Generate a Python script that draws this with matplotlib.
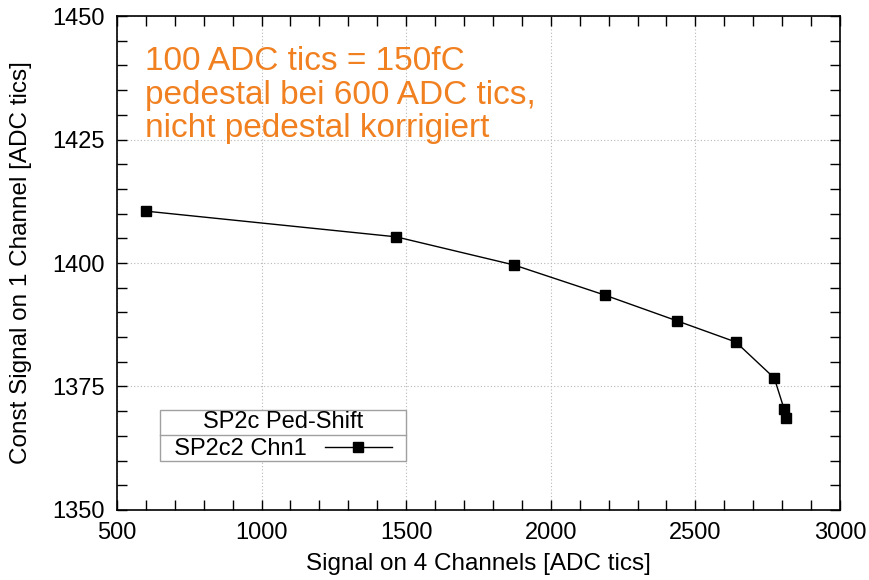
import numpy as np
import matplotlib.pyplot as plt
from matplotlib.lines import Line2D
from matplotlib.ticker import MultipleLocator

plt.rcParams['font.family'] = ['Liberation Sans', 'DejaVu Sans']

# SP2c2 Chn1 (Ped-Shift)
signal_4ch = [600, 1465, 1873, 2187, 2436, 2640, 2773, 2807, 2813]
const_1ch = [1410.5, 1405.3, 1399.6, 1393.5, 1388.3, 1384.0, 1376.7, 1370.4, 1368.7]

fig = plt.figure(figsize=(8.69, 5.8), dpi=100)
ax = fig.add_axes([0.1346, 0.1207, 0.832, 0.8517])

ax.plot(signal_4ch, const_1ch, color="black", lw=1, marker="s", ms=7,
        label="SP2c2 Chn1")

ax.set_xlim(500, 3000)
ax.set_ylim(1350, 1450)
ax.xaxis.set_major_locator(MultipleLocator(500))
ax.xaxis.set_minor_locator(MultipleLocator(100))
ax.yaxis.set_major_locator(MultipleLocator(25))
ax.yaxis.set_minor_locator(MultipleLocator(5))
ax.tick_params(which="both", direction="in", top=True, right=True,
               length=7, width=1, labelsize=17, pad=9)
ax.grid(True, which="major", color="#b8b8b8", ls=(0, (1, 2)), lw=0.8)
for s in ax.spines.values():
    s.set_linewidth(1.2)

ax.set_xlabel("Signal on 4 Channels [ADC tics]", fontsize=17.5, labelpad=6)
ax.set_ylabel("Const Signal on 1 Channel [ADC tics]", fontsize=17.5, labelpad=14)

ax.text(0.039, 0.94, "100 ADC tics = 150fC\npedestal bei 600 ADC tics,\nnicht pedestal korrigiert",
        transform=ax.transAxes, ha="left", va="top", fontsize=24,
        color="#f08020", linespacing=1.12)

leg = ax.legend(title="SP2c Ped-Shift", loc="lower left",
                bbox_to_anchor=(0.059, 0.099, 0.341, 0.099), mode="expand",
                markerfirst=False, handlelength=2.8, fontsize=17,
                title_fontsize=17, fancybox=False, framealpha=1,
                edgecolor="#a0a0a0", borderpad=0.05, borderaxespad=0,
                handletextpad=0.8, labelspacing=0.2)
leg.get_frame().set_linewidth(1)
leg.texts[0].set_text("  SP2c2 Chn1")

# separator line between legend title and entry
fig.canvas.draw()
tb = leg.get_title().get_window_extent()
lb = leg.get_window_extent()
inv = ax.transAxes.inverted()
(x0, y0), (x1, y1) = inv.transform([[lb.x0, tb.y0 - 2], [lb.x1, tb.y0 - 2]])
ax.add_line(Line2D([x0, x1], [y0, y1], transform=ax.transAxes,
                   color="#a0a0a0", lw=1, zorder=10))

plt.savefig("out.png", dpi=100)
